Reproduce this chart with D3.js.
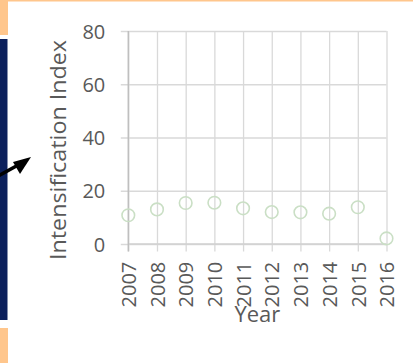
<!DOCTYPE html>
<html>
<head>
<meta charset="utf-8">
<script src="https://cdn.jsdelivr.net/npm/d3@7"></script>
<style>
  html, body { margin: 0; padding: 0; background: #fff; }
  svg { display: block; }
  text { font-family: "Open Sans", "Noto Sans", sans-serif; fill: #595959; }
</style>
</head>
<body>
<script>
// Yearly intensification index
const years = ["2007", "2008", "2009", "2010", "2011", "2012", "2013", "2014", "2015", "2016"];
const intensification = [10.8, 13.0, 15.4, 15.5, 13.4, 12.0, 11.9, 11.4, 13.8, 2.1];
const yTicks = [0, 20, 40, 60, 80];

const W = 413, H = 363;
const svg = d3.select("body").append("svg").attr("width", W).attr("height", H);

// Slide decoration: orange bands and navy side panel with pointer arrow
svg.append("rect").attr("x", 0).attr("y", 0).attr("width", W).attr("height", 1.5).attr("fill", "#ffc68c");
svg.append("rect").attr("x", 0).attr("y", 0).attr("width", 8).attr("height", 35).attr("fill", "#ffc68c");
svg.append("rect").attr("x", 0).attr("y", 39).attr("width", 7.5).attr("height", 281).attr("fill", "#0c205c");
svg.append("rect").attr("x", 0).attr("y", 328).attr("width", 8).attr("height", 35).attr("fill", "#ffc68c");
svg.append("line").attr("x1", -2).attr("y1", 176).attr("x2", 20).attr("y2", 164)
  .attr("stroke", "#000").attr("stroke-width", 3.5);
svg.append("path").attr("d", "M31,157 L13,162 L20,174 Z").attr("fill", "#000");

const plot = { left: 128.3, right: 386.5, top: 31, bottom: 244 };

const x = d3.scalePoint().domain(years).range([plot.left, plot.right]);
const y = d3.scaleLinear().domain([0, 80]).range([plot.bottom, plot.top]);

// Horizontal gridlines + y ticks
const gy = svg.append("g").attr("transform", `translate(${plot.left},0)`)
  .call(d3.axisLeft(y).tickValues(yTicks).tickSizeOuter(0)
    .tickSizeInner(-(plot.right - plot.left)).tickPadding(0));
gy.select(".domain").remove();
gy.selectAll(".tick line").attr("x1", -7.5).attr("stroke", "#d9d9d9").attr("stroke-width", 1.3);
gy.selectAll(".tick text").attr("x", -23).attr("dy", "0.36em")
  .attr("text-anchor", "end").style("font-size", "20px").attr("fill", "#595959");

// Vertical gridlines + x ticks
const gx = svg.append("g").attr("transform", `translate(0,${plot.bottom})`)
  .call(d3.axisBottom(x).tickSizeOuter(0).tickSizeInner(-(plot.bottom - plot.top)));
gx.select(".domain").remove();
gx.selectAll(".tick line")
  .attr("y1", -(plot.bottom - plot.top)).attr("y2", 7.5)
  .attr("stroke", "#d9d9d9").attr("stroke-width", 1.3);
gx.selectAll(".tick text")
  .attr("y", null).attr("dy", "0.36em")
  .attr("transform", "translate(0,17.7) rotate(-90)")
  .attr("text-anchor", "end").style("font-size", "20px").attr("fill", "#595959");

// Axis lines
svg.append("line").attr("x1", plot.left).attr("x2", plot.right)
  .attr("y1", y(0)).attr("y2", y(0)).attr("stroke", "#d0d0d0").attr("stroke-width", 1.4);
svg.append("line").attr("x1", plot.left).attr("x2", plot.left)
  .attr("y1", y(80)).attr("y2", y(0) + 7.5).attr("stroke", "#bfbfbf").attr("stroke-width", 1.5);

// Points
svg.append("g").selectAll("circle").data(years).join("circle")
  .attr("cx", d => x(d))
  .attr("cy", (d, i) => y(intensification[i]))
  .attr("r", 6.3)
  .attr("fill", "none")
  .attr("stroke", "#cadfc5")
  .attr("stroke-width", 1.6);

// Axis titles
svg.append("text")
  .attr("transform", `translate(${(plot.left + plot.right) / 2},322.3)`)
  .attr("text-anchor", "middle").style("font-size", "22px").text("Year");
svg.append("text")
  .attr("transform", "translate(66,150) rotate(-90)")
  .attr("text-anchor", "middle").style("font-size", "22px")
  .attr("textLength", 220).attr("lengthAdjust", "spacingAndGlyphs")
  .text("Intensification Index");
</script>
</body>
</html>
